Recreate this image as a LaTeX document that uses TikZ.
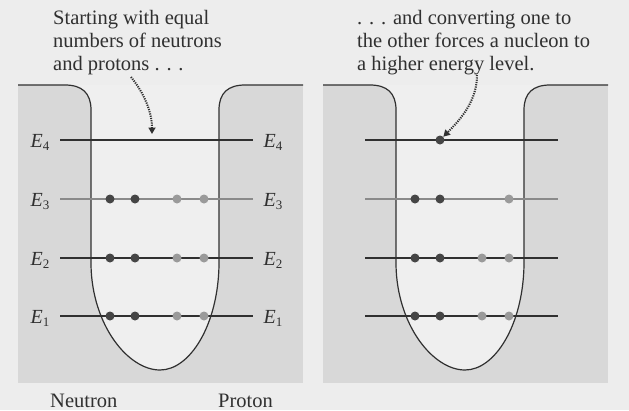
\documentclass[tikz,border=0pt]{standalone}
\usepackage{fontspec}
\setmainfont{Liberation Serif}
\usetikzlibrary{arrows.meta}
\definecolor{bgc}{HTML}{EDEDED}
\definecolor{panelc}{HTML}{D8D8D8}
\definecolor{wellc}{HTML}{EFEFEF}
\definecolor{inkc}{HTML}{303030}
\definecolor{levelg}{HTML}{8A8A8A}
\definecolor{neutc}{HTML}{454545}
\definecolor{protc}{HTML}{9A9A9A}
\tikzset{
  txt/.style={anchor=base west,inner sep=0pt,text=inkc,font=\fontsize{20.5}{23}\selectfont},
  elab/.style={anchor=base,inner sep=0pt,text=inkc,font=\fontsize{20}{23}\selectfont\itshape},
  wall/.style={draw=inkc,line width=1.2pt},
  level/.style={draw=inkc,line width=1.1pt},
  levelgray/.style={draw=levelg,line width=1.4pt},
  neut/.style={circle,fill=neutc,inner sep=0pt,minimum size=9pt},
  prot/.style={circle,fill=protc,inner sep=0pt,minimum size=9pt},
  dotarrow/.style={draw=inkc,line width=2pt,dash pattern=on 1.2pt off 1.1pt,-{Triangle[length=6.5pt,width=7pt]}},
}
\newcommand{\wellpath}{(65,85) .. controls (82,85) and (91,93) .. (91,110) -- (91,265) .. controls (92,325) and (128,370) .. (160,370) .. controls (190,370) and (218,325) .. (219,265) -- (219,110) .. controls (219,93) and (228,85) .. (245,85)}
\newcommand{\Elab}[1]{E\raisebox{-0.35ex}{\upshape\fontsize{13}{13}\selectfont #1}}
\begin{document}
\begin{tikzpicture}[x=1pt,y=-1pt]
\fill[bgc] (0,0) rectangle (629,410);
\useasboundingbox (0,0) rectangle (629,410);
% panels
\foreach \dx in {0,305}{
  \begin{scope}[xshift=\dx]
    \fill[panelc] (18,85) rectangle (303,383);
    \fill[wellc] \wellpath -- cycle;
    \draw[wall] (18,85) -- \wellpath -- (303,85);
  \end{scope}
}
% energy levels left
\draw[level] (60,140) -- (253,140);
\draw[levelgray] (60,199) -- (253,199);
\draw[level] (60,258) -- (253,258);
\draw[level] (60,316) -- (253,316);
% energy levels right
\draw[level] (365,140) -- (558,140);
\draw[levelgray] (365,199) -- (558,199);
\draw[level] (365,258) -- (558,258);
\draw[level] (365,316) -- (558,316);
% labels
\node[elab] (e4l) at (40,147) {\Elab{4}};
\node[elab] (e3l) at (40,206) {\Elab{3}};
\node[elab] (e2l) at (40,265) {\Elab{2}};
\node[elab] (e1l) at (40,323) {\Elab{1}};
\node[elab] (e4r) at (273,147) {\Elab{4}};
\node[elab] (e3r) at (273,206) {\Elab{3}};
\node[elab] (e2r) at (273,265) {\Elab{2}};
\node[elab] (e1r) at (273,323) {\Elab{1}};
% left dots
\foreach \y/\n in {199/3,258/2,316/1}{
  \node[neut] (ln\n a) at (110,\y) {};
  \node[neut] (ln\n b) at (135,\y) {};
  \node[prot] (lp\n a) at (177,\y) {};
  \node[prot] (lp\n b) at (204,\y) {};
}
% right dots
\node[neut] (rn4) at (440,140) {};
\node[neut] (rn3a) at (415,199) {};
\node[neut] (rn3b) at (440,199) {};
\node[prot] (rp3b) at (509,199) {};
\foreach \y/\n in {258/2,316/1}{
  \node[neut] (rn\n a) at (415,\y) {};
  \node[neut] (rn\n b) at (440,\y) {};
  \node[prot] (rp\n a) at (482,\y) {};
  \node[prot] (rp\n b) at (509,\y) {};
}
% texts
\node[txt] (ta1) at (53,24) {Starting with equal};
\node[txt] (ta2) at (53,47) {numbers of neutrons};
\node[txt] (ta3) at (53,70) {and protons . . .};
\node[txt] (tb1) at (357,24) {. . . and converting one to};
\node[txt] (tb2) at (357,47) {the other forces a nucleon to};
\node[txt] (tb3) at (357,70) {a higher energy level.};
\node[txt] (neutron) at (50,407) {Neutron};
\node[txt] (proton) at (218,407) {Proton};
% arrows
\coordinate (aStart) at (131,77);
\coordinate (aEnd) at (152,134);
\draw[dotarrow] (aStart) .. controls (144,93) and (152,112) .. (aEnd);
\coordinate (bStart) at (477,75);
\draw[dotarrow] (bStart) .. controls (477,100) and (462,118) .. (rn4.north east);
\end{tikzpicture}
\end{document}
